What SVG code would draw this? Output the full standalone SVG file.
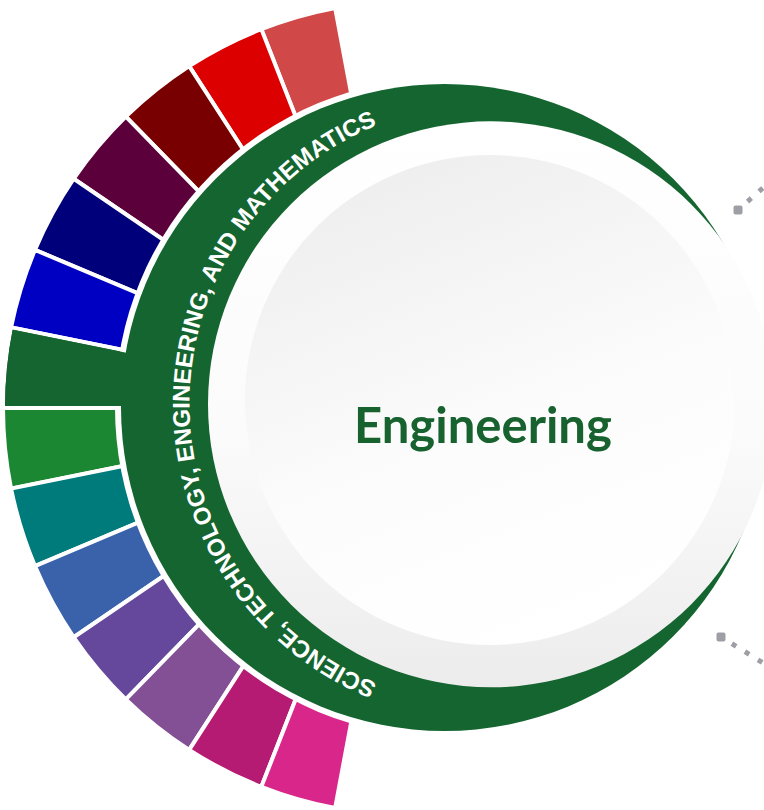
<svg xmlns="http://www.w3.org/2000/svg" width="764" height="810" viewBox="0 0 764 810">
  <style>
    .seg { stroke: #ffffff; stroke-width: 4; stroke-linejoin: miter; }
    .ring { fill: #14652f; }
    .arc-label { font-family: "Liberation Sans", Arial, sans-serif; font-weight: bold; font-size: 24px; fill: #ffffff; }
    .title { font-family: Lato, "Liberation Sans", sans-serif; font-weight: bold; font-size: 49px; fill: #17622f; }
    .dots { fill: none; stroke: #9e9fa4; stroke-width: 5; stroke-dasharray: 5 10.3; stroke-dashoffset: 2.5; }
    .dot-end { fill: #9e9fa4; }
  </style>
  <defs>
    <linearGradient id="outerG" x1="0" y1="0" x2="0" y2="1">
      <stop offset="0" stop-color="#ffffff"/>
      <stop offset="0.55" stop-color="#fbfbfb"/>
      <stop offset="1" stop-color="#ececec"/>
    </linearGradient>
    <linearGradient id="innerG" x1="0.2" y1="0" x2="0.6" y2="1">
      <stop offset="0" stop-color="#ededed"/>
      <stop offset="0.6" stop-color="#fcfcfc"/>
      <stop offset="1" stop-color="#ffffff"/>
    </linearGradient>
    <path id="arcText" d="M 491,705.8 A 301.5,301.5 0 0 1 491,102.8"/>
  </defs>

  <g id="segments">
    <g id="seg-1"><path class="seg" fill="#d14848" d="M410,408 L335.13,7.94 A407,407 0 0 0 261.31,29.14 Z"/></g>
    <g id="seg-2"><path class="seg" fill="#dc0000" d="M410,408 L261.31,29.14 A407,407 0 0 0 189.18,66.11 Z"/></g>
    <g id="seg-3"><path class="seg" fill="#780000" d="M410,408 L189.18,66.11 A407,407 0 0 0 125.82,116.64 Z"/></g>
    <g id="seg-4"><path class="seg" fill="#5b003b" d="M410,408 L125.82,116.64 A407,407 0 0 0 73.72,178.73 Z"/></g>
    <g id="seg-5"><path class="seg" fill="#00007b" d="M410,408 L73.72,178.73 A407,407 0 0 0 34.96,249.91 Z"/></g>
    <g id="seg-6"><path class="seg" fill="#0000c3" d="M410,408 L34.96,249.91 A407,407 0 0 0 11.07,327.35 Z"/></g>
    <g id="seg-stem"><path class="seg" fill="#14652f" d="M410,408 L11.07,327.35 A407,407 0 0 0 3,408 Z"/></g>
    <g id="seg-8"><path class="seg" fill="#1b8733" d="M410,408 L3,408 A407,407 0 0 0 11.07,488.65 Z"/></g>
    <g id="seg-9"><path class="seg" fill="#007b7b" d="M410,408 L11.07,488.65 A407,407 0 0 0 34.96,566.09 Z"/></g>
    <g id="seg-10"><path class="seg" fill="#3962ab" d="M410,408 L34.96,566.09 A407,407 0 0 0 73.72,637.27 Z"/></g>
    <g id="seg-11"><path class="seg" fill="#65479b" d="M410,408 L73.72,637.27 A407,407 0 0 0 125.82,699.36 Z"/></g>
    <g id="seg-12"><path class="seg" fill="#835095" d="M410,408 L125.82,699.36 A407,407 0 0 0 189.18,749.89 Z"/></g>
    <g id="seg-13"><path class="seg" fill="#b51b73" d="M410,408 L189.18,749.89 A407,407 0 0 0 261.31,786.86 Z"/></g>
    <g id="seg-14"><path class="seg" fill="#d9268a" d="M410,408 L261.31,786.86 A407,407 0 0 0 335.13,808.06 Z"/></g>
  </g>

  <g id="stem-ring">
    <circle cx="444.5" cy="407.5" r="329.5" fill="#ffffff"/>
    <path class="ring" d="M390,406 L5,406 A405,405 0 0 1 12.63,329.71 Z"/>
    <circle class="ring" cx="444.5" cy="407.5" r="323.5"/>
    <circle cx="491" cy="404.3" r="283" fill="url(#outerG)"/>
    <text class="arc-label"><textPath href="#arcText" startOffset="50%" text-anchor="middle">SCIENCE, TECHNOLOGY, ENGINEERING, AND MATHEMATICS</textPath></text>
  </g>

  <g id="node-engineering">
    <circle cx="490" cy="400" r="245" fill="url(#innerG)"/>
    <text class="title" x="483" y="443" text-anchor="middle">Engineering</text>
  </g>

  <g id="connectors">
    <path class="dots" d="M738,210 L790,164"/>
    <rect class="dot-end" x="733.5" y="205.5" width="9" height="9" rx="2"/>
    <path class="dots" d="M721,637 L790,679.5"/>
    <rect class="dot-end" x="716.5" y="632.5" width="9" height="9" rx="2"/>
  </g>
</svg>
